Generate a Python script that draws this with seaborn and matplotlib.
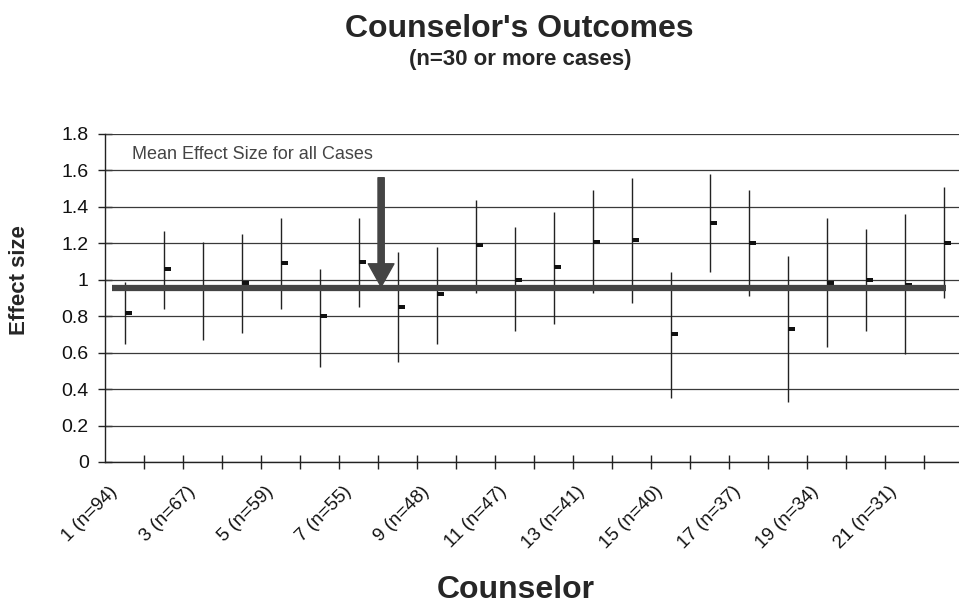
import matplotlib
matplotlib.use("Agg")
import matplotlib.pyplot as plt
import seaborn as sns
import numpy as np
import pandas as pd
from matplotlib.path import Path
import matplotlib.transforms as mtransforms

# ---- data ----
counselors = list(range(1, 23))
case_counts = {1: 94, 3: 67, 5: 59, 7: 55, 9: 48, 11: 47, 13: 41, 15: 40, 17: 37, 19: 34, 21: 31}
effect_mean = [0.82, 1.06, 0.955, 0.98, 1.09, 0.80, 1.10, 0.85, 0.92, 1.19, 1.00,
               1.07, 1.21, 1.22, 0.70, 1.31, 1.20, 0.73, 0.98, 1.00, 0.97, 1.20]
effect_high = [0.99, 1.27, 1.21, 1.25, 1.34, 1.06, 1.34, 1.15, 1.18, 1.44, 1.29,
               1.37, 1.49, 1.56, 1.04, 1.58, 1.49, 1.13, 1.34, 1.28, 1.36, 1.51]
effect_low = [0.65, 0.84, 0.67, 0.71, 0.84, 0.52, 0.85, 0.55, 0.65, 0.93, 0.72,
              0.76, 0.93, 0.87, 0.35, 1.04, 0.91, 0.33, 0.63, 0.72, 0.59, 0.90]
overall_mean = 0.957
y_ticks = [0, 0.2, 0.4, 0.6, 0.8, 1, 1.2, 1.4, 1.6, 1.8]
y_tick_labels = ["0", "0.2", "0.4", "0.6", "0.8", "1", "1.2", "1.4", "1.6", "1.8"]

df = pd.DataFrame({
    "pos": np.arange(len(counselors)),
    "counselor": counselors,
    "mean": effect_mean,
    "high": effect_high,
    "low": effect_low,
})
tick_labels = [f"{c} (n={case_counts[c]})" if c in case_counts else "" for c in counselors]

# ---- style ----
sns.set_theme(style="white")
plt.rcParams["font.family"] = ["Liberation Sans", "DejaVu Sans"]

W, H = 959, 607
fig = plt.figure(figsize=(W / 100, H / 100), dpi=100)
left_px, right_px, top_px, bottom_px = 105, 963, 134, 462
ax = fig.add_axes([left_px / W, 1 - bottom_px / H, (right_px - left_px) / W, (bottom_px - top_px) / H])

ax.set_xlim(-0.5, len(counselors) - 0.5)
ax.set_ylim(0, 1.8)

# gridlines
for yv in y_ticks:
    ax.axhline(yv, color="#3a3a3a", lw=0.9, zorder=1)

# high-low lines
ax.vlines(df["pos"], df["low"], df["high"], color="#222222", lw=1.0, zorder=2)

# mean markers (Excel-style "close" tick to the right)
rect = Path([(0, -0.33), (1, -0.33), (1, 0.33), (0, 0.33), (0, -0.33)],
            [Path.MOVETO, Path.LINETO, Path.LINETO, Path.LINETO, Path.CLOSEPOLY])
sns.scatterplot(data=df, x="pos", y="mean", marker=rect, s=110, color="#111111",
                linewidth=0, ax=ax, zorder=3, legend=False)

# overall mean line
ax.hlines(overall_mean, -0.33, 21.06, color="#444444", lw=4.5, zorder=4)

# arrow
ax.annotate("", xy=(6.58, 0.962), xytext=(6.58, 1.56),
            arrowprops=dict(arrowstyle="simple,head_width=1.85,head_length=1.65,tail_width=0.45",
                            color="#444444", shrinkA=0, shrinkB=0, mutation_scale=10),
            zorder=5)
ax.text(0.2, 1.69, "Mean Effect Size for all Cases", fontsize=13, color="#444444",
        va="center", ha="left", zorder=6)

# axes
for s in ["top", "right"]:
    ax.spines[s].set_visible(False)
ax.spines["left"].set_color("#222222")
ax.spines["bottom"].set_color("#222222")
ax.spines["left"].set_linewidth(1.0)
ax.spines["bottom"].set_linewidth(1.0)

ax.set_yticks(y_ticks)
ax.set_yticklabels(y_tick_labels, fontsize=14, color="#111111")
ax.tick_params(axis="y", direction="inout", length=9.5, width=1.0, color="#222222", pad=7, left=True)

ax.set_xticks(df["pos"])
ax.set_xticklabels(tick_labels, rotation=45, ha="right", va="top",
                   fontsize=13.5, color="#111111")
ax.tick_params(axis="x", length=0, pad=15, bottom=True)
shift = mtransforms.ScaledTranslation(-0.04, 0, fig.dpi_scale_trans)
for lab in ax.get_xticklabels():
    lab.set_transform(lab.get_transform() + shift)
ax.set_xticks(np.arange(0.5, len(counselors) - 0.5, 1), minor=True)
ax.tick_params(axis="x", which="minor", direction="inout", length=9.5, width=1.0, color="#222222", bottom=True)

ax.set_xlabel("")
ax.set_ylabel("")

fig.text(0.542, 1 - 37 / H, "Counselor's Outcomes", ha="center", va="baseline", fontsize=23, fontweight="bold")
fig.text(0.542, 1 - 65 / H, "(n=30 or more cases)", ha="center", va="baseline", fontsize=16, fontweight="bold")
fig.text(0.538, 1 - 598 / H, "Counselor", ha="center", va="baseline", fontsize=23, fontweight="bold")
fig.text(0.0203, 0.539, "Effect size", ha="center", va="center", rotation=90, fontsize=16, fontweight="bold")

fig.savefig("out.png", dpi=100)
